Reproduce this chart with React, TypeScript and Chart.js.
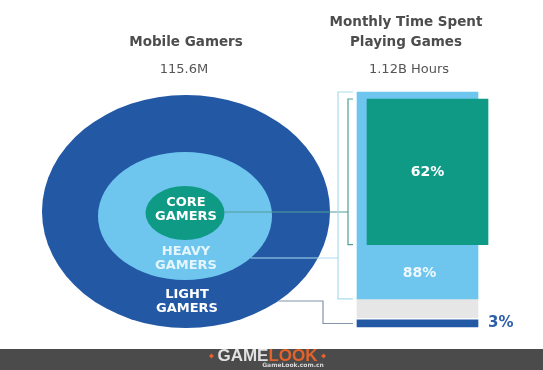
import React, { useEffect, useRef } from 'react';
import { Chart, registerables } from 'chart.js';

Chart.register(...registerables);

// ---- data ----
const segmentNames = ['Core Gamers', 'Heavy Gamers', 'Light Gamers'];
const segmentLabels = [['CORE', 'GAMERS'], ['HEAVY', 'GAMERS'], ['LIGHT', 'GAMERS']];
const timeShares = [62, 88, 3]; // % of monthly time spent playing
const restBand = [4, 12];
const barCategories = ['Monthly Time Spent'];
const leftTitle = ['Mobile Gamers'];
const leftValue = '115.6M';
const rightTitle = ['Monthly Time Spent', 'Playing Games'];
const rightValue = '1.12B Hours';
const shareLabels = timeShares.map((v) => `${v}%`);

// ---- styles ----
const segmentColors = ['#0f9a86', '#6ec6ef', '#2358a5'];
const labelColors = ['#ffffff', '#e4f5fd', '#ffffff'];
const restColor = '#e6e6e6';
const bracketColors = ['#4f9e96', '#a9dcef', '#8494ab'];

// ---- layout (pixels) ----
const coreShift = { x: 10, y: 7 };
const ellipseGeom = [
  { cx: 185, cy: 213, rx: 39.5, ry: 27 },
  { cx: 185, cy: 216, rx: 87, ry: 64 },
  { cx: 186, cy: 211.5, rx: 144, ry: 116.5 },
];
const labelRows = [[203, 217], [252, 266], [295, 309]];
const connectorY = [212, 258, 301];

function edgeX(g: { cx: number; cy: number; rx: number; ry: number }, y: number) {
  const t = (y - g.cy) / g.ry;
  return g.cx + g.rx * Math.sqrt(Math.max(0, 1 - t * t));
}

function coreBox(chart: any) {
  const core = chart.getDatasetMeta(0).data[0];
  return {
    x: core.x + coreShift.x,
    top: Math.min(core.y, core.base) + coreShift.y,
    bot: Math.max(core.y, core.base) + coreShift.y,
  };
}

const diagramPlugin = {
  id: 'diagram',
  beforeDatasetDraw(chart: any, args: any) {
    if (args.index === 0) {
      chart.ctx.save();
      chart.ctx.translate(coreShift.x, coreShift.y);
    }
  },
  afterDatasetDraw(chart: any, args: any) {
    if (args.index === 0) chart.ctx.restore();
  },
  beforeDatasetsDraw(chart: any) {
    const ctx: CanvasRenderingContext2D = chart.ctx;
    ctx.save();
    // titles
    ctx.textAlign = 'center';
    ctx.textBaseline = 'middle';
    ctx.fillStyle = '#4d4d4d';
    ctx.font = 'bold 13.5px "DejaVu Sans"';
    leftTitle.forEach((t, i) => ctx.fillText(t, 186, 42 + i * 20));
    rightTitle.forEach((t, i) => ctx.fillText(t, 406, 22 + i * 20));
    ctx.fillStyle = '#555555';
    ctx.font = '13px "DejaVu Sans"';
    ctx.fillText(leftValue, 184, 70);
    ctx.fillText(rightValue, 409, 70);

    // ellipses (outer first)
    for (let i = ellipseGeom.length - 1; i >= 0; i--) {
      const g = ellipseGeom[i];
      ctx.beginPath();
      ctx.ellipse(g.cx, g.cy, g.rx, g.ry, 0, 0, Math.PI * 2);
      ctx.fillStyle = segmentColors[i];
      ctx.fill();
    }
    ctx.font = 'bold 13px "DejaVu Sans"';
    segmentLabels.forEach((lines, i) => {
      ctx.fillStyle = labelColors[i];
      lines.forEach((t, j) => ctx.fillText(t, ellipseGeom[i].cx + 1, labelRows[i][j]));
    });

    // connectors / brackets, using bar positions from the scales
    const core = coreBox(chart);
    const heavy = chart.getDatasetMeta(1).data[0];
    const light = chart.getDatasetMeta(3).data[0];
    const barLeft = heavy.x - heavy.width / 2;
    const tickEnd = barLeft - 4;
    ctx.lineWidth = 1.2;

    // core
    const bx0 = barLeft - 9;
    ctx.strokeStyle = bracketColors[0];
    ctx.beginPath();
    ctx.moveTo(edgeX(ellipseGeom[0], connectorY[0]), connectorY[0]);
    ctx.lineTo(bx0, connectorY[0]);
    ctx.moveTo(tickEnd, core.top);
    ctx.lineTo(bx0, core.top);
    ctx.lineTo(bx0, core.bot);
    ctx.lineTo(tickEnd, core.bot);
    ctx.stroke();

    // heavy
    const hTop = Math.min(heavy.y, heavy.base);
    const hBot = Math.max(heavy.y, heavy.base);
    const bx1 = barLeft - 19;
    ctx.strokeStyle = bracketColors[1];
    ctx.beginPath();
    ctx.moveTo(edgeX(ellipseGeom[1], connectorY[1]), connectorY[1]);
    ctx.lineTo(bx1, connectorY[1]);
    ctx.moveTo(tickEnd, hTop);
    ctx.lineTo(bx1, hTop);
    ctx.lineTo(bx1, hBot);
    ctx.lineTo(tickEnd, hBot);
    ctx.stroke();

    // light
    const lMid = (light.y + light.base) / 2;
    const bx2 = barLeft - 34;
    ctx.strokeStyle = bracketColors[2];
    ctx.beginPath();
    ctx.moveTo(edgeX(ellipseGeom[2], connectorY[2]), connectorY[2]);
    ctx.lineTo(bx2, connectorY[2]);
    ctx.lineTo(bx2, lMid);
    ctx.lineTo(tickEnd, lMid);
    ctx.stroke();

    // banner
    const W = chart.width;
    const H = chart.height;
    ctx.fillStyle = '#4b4b4b';
    ctx.fillRect(0, H - 21, W, 21);
    ctx.font = 'bold 17px "Liberation Sans"';
    ctx.textAlign = 'left';
    const wG = ctx.measureText('GAME').width;
    const wL = ctx.measureText('LOOK').width;
    const sx = 267.5 - (wG + wL) / 2;
    const by = H - 14;
    ctx.fillStyle = '#e2e2e2';
    ctx.fillText('GAME', sx, by);
    ctx.fillStyle = '#e5622b';
    ctx.fillText('LOOK', sx + wG, by);
    [sx - 6, sx + wG + wL + 6].forEach((x) => {
      ctx.beginPath();
      ctx.moveTo(x - 2.5, by);
      ctx.lineTo(x, by - 2.5);
      ctx.lineTo(x + 2.5, by);
      ctx.lineTo(x, by + 2.5);
      ctx.closePath();
      ctx.fill();
    });
    ctx.fillStyle = '#d8d8d8';
    ctx.font = 'bold 6px "DejaVu Sans"';
    ctx.textAlign = 'center';
    ctx.fillText('GameLook.com.cn', sx + wG + wL / 2, H - 5);
    ctx.restore();
  },
  afterDatasetsDraw(chart: any) {
    const ctx: CanvasRenderingContext2D = chart.ctx;
    const core = coreBox(chart);
    const heavy = chart.getDatasetMeta(1).data[0];
    const light = chart.getDatasetMeta(3).data[0];
    ctx.save();
    ctx.textAlign = 'center';
    ctx.textBaseline = 'middle';
    ctx.font = 'bold 14px "DejaVu Sans"';
    ctx.fillStyle = '#ffffff';
    ctx.fillText(shareLabels[0], core.x, (core.top + core.bot) / 2 + 1);
    ctx.fillStyle = '#eef8fd';
    const hBot = Math.max(heavy.y, heavy.base);
    ctx.fillText(shareLabels[1], heavy.x + 2, (core.bot + hBot) / 2 + 2);
    ctx.textAlign = 'left';
    ctx.font = 'bold 15px "DejaVu Sans"';
    ctx.fillStyle = '#2d5ea8';
    ctx.fillText(shareLabels[2], heavy.x + heavy.width / 2 + 10, (light.y + light.base) / 2);
    ctx.restore();
  },
};

export default function App() {
  const ref = useRef<HTMLCanvasElement>(null);
  useEffect(() => {
    const common = { grouped: false, categoryPercentage: 1, barPercentage: 1, clip: false };
    const chart = new Chart(ref.current as HTMLCanvasElement, {
      type: 'bar',
      data: {
        labels: barCategories,
        datasets: [
          { label: segmentNames[0], data: [[100 - timeShares[0], 100]], backgroundColor: segmentColors[0], ...common },
          { label: segmentNames[1], data: [[100 - timeShares[1], 100]], backgroundColor: segmentColors[1], ...common },
          { label: 'Other', data: [restBand], backgroundColor: restColor, ...common },
          { label: segmentNames[2], data: [[0, timeShares[2]]], backgroundColor: segmentColors[2], ...common },
        ] as any,
      },
      options: {
        responsive: false,
        animation: false,
        layout: { padding: { left: 357, right: 543 - 478, top: 92, bottom: 370 - 327 } },
        scales: {
          x: { display: false, offset: true },
          y: { display: false, min: 0, max: 100, stacked: false },
        },
        plugins: { legend: { display: false }, tooltip: { enabled: false } },
      } as any,
      plugins: [diagramPlugin],
    });
    return () => chart.destroy();
  }, []);
  return (
    <div style={{ position: 'absolute', left: 0, top: 0, width: 543, height: 370, background: '#ffffff' }}>
      <canvas ref={ref} width={543} height={370} style={{ display: 'block' }} />
    </div>
  );
}
